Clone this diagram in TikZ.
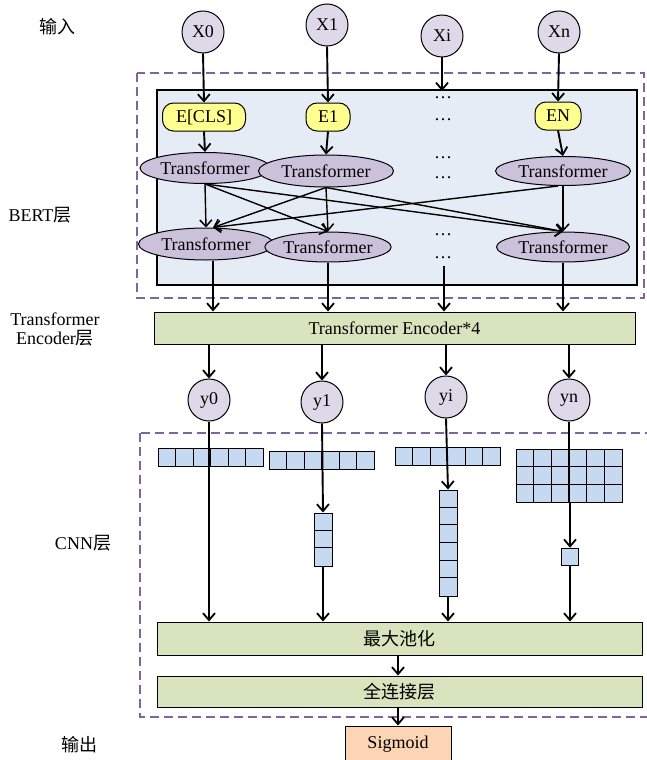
\documentclass[tikz,border=0pt]{standalone}
\usepackage{fontspec}
\setmainfont{Liberation Serif}
\newfontfamily\cjk{Noto Sans CJK SC}
\usetikzlibrary{arrows.meta,shapes.geometric,calc}
\definecolor{lav}{HTML}{CCC1DA}
\definecolor{lavl}{HTML}{DFD8E8}
\definecolor{yel}{HTML}{FFFF8F}
\definecolor{bluebg}{HTML}{E5ECF6}
\definecolor{grn}{HTML}{D7E4BD}
\definecolor{cellc}{HTML}{C6D9F1}
\definecolor{purp}{HTML}{8064A2}
\definecolor{peach}{HTML}{FCD5B5}
\begin{document}
\begin{tikzpicture}[x=1pt,y=-1pt,
  every node/.style={font=\fontsize{18}{19}\selectfont, inner sep=0pt},
  incirc/.style={circle,draw,fill=lavl,minimum size=42pt,line width=1pt},
  ebox/.style={draw,fill=yel,rounded corners=11pt,minimum height=28pt,line width=1pt},
  tf/.style={ellipse,draw,fill=lav,line width=1pt},
  bar/.style={draw,fill=grn,line width=1pt},
  arr/.style={-{Straight Barb[length=7pt,width=12pt,line width=1.8pt]},line width=1.9pt},
  tarr/.style={-{Straight Barb[length=6.5pt,width=12pt,line width=1.5pt]},line width=1.4pt},
  dashbox/.style={draw=purp,dash pattern=on 9pt off 5pt,line width=1.3pt},
  cell/.style={draw,fill=cellc,line width=1pt}]
\useasboundingbox (0,0) rectangle (647,760);

% layer frames
\draw[dashbox] (137,73) rectangle (644,298);
\draw[fill=bluebg,line width=1.2pt] (157,90) rectangle (637,285);
\draw[dashbox] (140,433) rectangle (652,717);

% left labels
\node (l1) at (57,27) {\cjk 输入};
\node (l2) at (40,215) {BERT{\cjk 层}};
\node[align=center] (l3) at (55,329) {Transformer\\Encoder{\cjk 层}};
\node (l4) at (83,543) {CNN{\cjk 层}};
\node (l5) at (79,745) {\cjk 输出};

% inputs
\node[incirc] (X0) at (203,32) {X0};
\node[incirc] (X1) at (327,25) {X1};
\node[incirc] (Xi) at (442,36) {Xi};
\node[incirc] (Xn) at (559,32) {Xn};

% embeddings
\node[ebox,minimum width=83pt] (E0) at (204,117) {E[CLS]};
\node[ebox,minimum width=44pt] (E1) at (328,117) {E1};
\node[ebox,minimum width=46pt] (EN) at (558,116) {EN};

% transformers
\node[tf,minimum width=130pt,minimum height=31pt] (T1a) at (205,168) {Transformer};
\node[tf,minimum width=135pt,minimum height=32pt] (T1b) at (326,171) {Transformer};
\node[tf,minimum width=135pt,minimum height=29pt] (T1n) at (563,171) {Transformer};
\node[tf,minimum width=135pt,minimum height=32pt] (T2a) at (206,244) {Transformer};
\node[tf,minimum width=121pt,minimum height=30pt] (T2b) at (328,247) {Transformer};
\node[tf,minimum width=133pt,minimum height=30pt] (T2n) at (563,247) {Transformer};

% dots
\node (d1) at (443,98) {…};
\node (d2) at (443,120) {…};
\node (d3) at (443,158) {…};
\node (d4) at (443,178) {…};
\node (d5) at (443,235) {…};
\node (d6) at (443,258) {…};
\coordinate (xiend) at (442,91);
\coordinate (dend) at (444,266);

% input arrows
\draw[arr] (X0.south) -- (E0.north);
\draw[arr] (X1.south) -- (E1.north);
\draw[arr] (Xi.south) -- (xiend);
\draw[arr] (Xn.south) -- (EN.north);
\draw[arr] (E0.south) -- (T1a.north);
\draw[arr] (E1.south) -- (T1b.north);
\draw[arr] (EN.south) -- (T1n.north);

% cross connections
\draw[tarr] (T1a.south) -- (T2a.north);
\draw[tarr] (T1a.south) -- (T2b.north);
\draw[tarr] (T1a.south) -- (T2n.north);
\draw[tarr] (T1b.south) -- ([xshift=7pt]T2a.north);
\draw[tarr] (T1b.south) -- (T2b.north);
\draw[tarr] (T1b.south) -- (T2n.north);
\draw[tarr] ([xshift=-5pt]T1n.south) -- ([xshift=7pt]T2a.north);
\draw[tarr] (T1n.south) -- (T2n.north);

% encoder
\node[bar,minimum width=481pt,minimum height=32pt] (enc) at (394.5,328) {Transformer Encoder*4};
\coordinate (c0) at (213,0);
\draw[arr] (T2a.south -| c0) -- (enc.north -| c0);
\draw[arr] (T2b.south) -- (enc.north -| T2b.south);
\draw[arr] (dend) -- (enc.north -| dend);
\draw[arr] (T2n.south) -- (enc.north -| T2n.south);

% outputs of encoder
\node[incirc] (y0) at (209,400) {y0};
\node[incirc] (y1) at (322,402) {y1};
\node[incirc] (yi) at (446,397) {yi};
\node[incirc] (yn) at (569,400) {yn};
\draw[arr] (enc.south -| y0) -- (y0.north);
\draw[arr] (enc.south -| y1) -- (y1.north);
\draw[arr] (enc.south -| yi) -- (yi.north);
\draw[arr] (enc.south -| yn) -- (yn.north);

% CNN feature maps
\foreach \i in {0,...,5} \draw[cell] ({158+17.5*\i},448) rectangle ++(17.5,18);
\foreach \i in {0,...,5} \draw[cell] ({269+17.5*\i},451) rectangle ++(17.5,18);
\foreach \i in {0,...,5} \draw[cell] ({395+17.5*\i},447) rectangle ++(17.5,18);
\foreach \i in {0,...,5} \foreach \j in {0,1,2}
  \draw[cell] ({516+17.67*\i},{449+17.67*\j}) rectangle ++(17.67,17.67);
\coordinate (g3) at (570,502);

\node[cell,minimum width=18pt,minimum height=53pt] (v1) at (323,539.5) {};
\foreach \k in {1,2} \draw[line width=1pt] ($(v1.north west)+(0,{17.67*\k})$) -- ++(18,0);
\node[cell,minimum width=18pt,minimum height=106pt] (v2) at (448,543) {};
\foreach \k in {1,...,5} \draw[line width=1pt] ($(v2.north west)+(0,{17.67*\k})$) -- ++(18,0);
\node[cell,minimum width=17.5pt,minimum height=17.5pt] (v3) at (570,557) {};

% pooling and fc
\node[bar,minimum width=485pt,minimum height=33pt] (pool) at (399.5,638.5) {\cjk 最大池化};
\node[bar,minimum width=485pt,minimum height=31pt] (fc) at (399.5,691.5) {\cjk 全连接层};
\node[draw,fill=peach,minimum width=106pt,minimum height=36pt,line width=1pt] (sig) at (398,744) {Sigmoid};

\draw[arr] (y0.south) -- (pool.north -| y0.south);
\draw[arr] (y1.south) -- (v1.north);
\draw[arr] (v1.south) -- (pool.north -| v1.south);
\draw[arr] (yi.south) -- (v2.north);
\draw[arr] (v2.south) -- (pool.north -| v2.south);
\draw[line width=1.9pt] (yn.south) -- (yn.south |- g3);
\draw[arr] (g3) -- (v3.north);
\draw[arr] (v3.south) -- (pool.north -| v3.south);
\draw[arr] (pool.south -| sig.north) -- (fc.north -| sig.north);
\draw[arr] (fc.south -| sig.north) -- (sig.north);
\end{tikzpicture}
\end{document}
